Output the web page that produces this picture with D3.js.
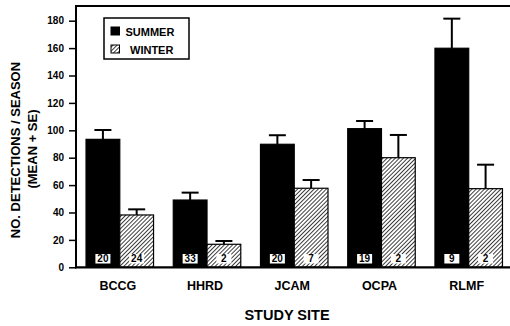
<!DOCTYPE html>
<html>
<head>
  <script src="https://d3js.org/d3.v7.min.js"></script>
  <style>
    body { margin: 0; background: #fff; }
    text { font-family: "Liberation Sans", Arial, sans-serif; font-weight: bold; fill: #000; }
  </style>
</head>
<body>
  <svg id="chart"></svg>
  <script>
    // values
    const sites = ["BCCG", "HHRD", "JCAM", "OCPA", "RLMF"]
    const seasons = ["SUMMER", "WINTER"]
    const summerMean = [93.4, 49.1, 89.8, 101.2, 159.9]
    const summerSE = [6.8, 5.4, 6.6, 5.6, 21.6]
    const winterMean = [38.2, 16.8, 57.7, 80.0, 57.4]
    const winterSE = [4.1, 2.4, 6.0, 16.6, 17.5]
    const summerN = ["20", "33", "20", "19", "9"]
    const winterN = ["24", "2", "7", "2", "2"]
    const yTicks = [0, 20, 40, 60, 80, 100, 120, 140, 160, 180]

    const svgwidth = 510, svgheight = 326
    const svg = d3.select("#chart").attr("width", svgwidth).attr("height", svgheight)

    const margin = { top: 6, left: 76, bottom: 59 }
    const plotRight = 512.5

    // hatch for winter bars
    const hs = 2.9
    const pat = svg.append("defs").append("pattern")
      .attr("id", "hatch")
      .attr("patternUnits", "userSpaceOnUse")
      .attr("width", hs).attr("height", hs)
      .attr("patternTransform", "rotate(45)")
    pat.append("rect").attr("width", hs).attr("height", hs).attr("fill", "#fff")
    pat.append("line").attr("x1", 0).attr("y1", 0).attr("x2", 0).attr("y2", hs)
      .attr("stroke", "#000").attr("stroke-width", 1.5)

    const y = d3.scaleLinear().domain([0, 180]).range([267.3, 20.7])

    const x0 = d3.scaleBand().domain(sites)
      .range([margin.left, plotRight])
      .paddingInner(0.226).paddingOuter(0.115)
    const x1 = d3.scaleBand().domain(seasons).range([0, x0.bandwidth()])

    const data = sites.map((s, i) => ({
      site: s,
      vals: [
        { season: "SUMMER", mean: summerMean[i], se: summerSE[i], n: summerN[i] },
        { season: "WINTER", mean: winterMean[i], se: winterSE[i], n: winterN[i] }
      ]
    }))

    // frame
    svg.append("line").attr("x1", margin.left).attr("x2", svgwidth)
      .attr("y1", margin.top).attr("y2", margin.top)
      .attr("stroke", "#000").attr("stroke-width", 2)

    // y axis
    const yAxis = svg.append("g")
      .attr("transform", `translate(${margin.left},0)`)
      .call(d3.axisLeft(y).tickValues(yTicks).tickSize(7).tickPadding(5))
    yAxis.select(".domain").remove()
    yAxis.selectAll(".tick line").attr("stroke", "#000").attr("stroke-width", 1.5)
    yAxis.selectAll(".tick text").style("font-size", "10px")
      .style("font-family", "'Liberation Sans', Arial, sans-serif").style("font-weight", "bold")
    svg.append("line").attr("x1", margin.left).attr("x2", margin.left)
      .attr("y1", margin.top - 1).attr("y2", y(0) + 1)
      .attr("stroke", "#000").attr("stroke-width", 2)

    const groups = svg.selectAll(".grp").data(data).enter().append("g")
      .attr("transform", d => `translate(${x0(d.site)},0)`)

    const bars = groups.selectAll(".bar").data(d => d.vals).enter().append("g")

    // error bars
    bars.append("line")
      .attr("x1", d => x1(d.season) + x1.bandwidth() / 2)
      .attr("x2", d => x1(d.season) + x1.bandwidth() / 2)
      .attr("y1", d => y(d.mean)).attr("y2", d => y(d.mean + d.se))
      .attr("stroke", "#000").attr("stroke-width", 2)
    bars.append("line")
      .attr("x1", d => x1(d.season) + x1.bandwidth() / 2 - 8.5)
      .attr("x2", d => x1(d.season) + x1.bandwidth() / 2 + 8.5)
      .attr("y1", d => y(d.mean + d.se)).attr("y2", d => y(d.mean + d.se))
      .attr("stroke", "#000").attr("stroke-width", 2)

    bars.append("rect")
      .attr("x", d => x1(d.season))
      .attr("y", d => y(d.mean))
      .attr("width", x1.bandwidth())
      .attr("height", d => y(0) - y(d.mean))
      .attr("fill", d => d.season === "SUMMER" ? "#000" : "url(#hatch)")
      .attr("stroke", "#000").attr("stroke-width", 1.2)

    // sample sizes
    bars.append("rect")
      .attr("x", d => x1(d.season) + x1.bandwidth() / 2 - 7.5)
      .attr("y", 254).attr("width", 15).attr("height", 9.5)
      .attr("fill", "#fff")
    bars.append("text")
      .attr("x", d => x1(d.season) + x1.bandwidth() / 2)
      .attr("y", 262.3)
      .attr("text-anchor", "middle")
      .style("font-size", "10px")
      .text(d => d.n)

    // x axis line
    svg.append("line").attr("x1", margin.left - 1).attr("x2", svgwidth)
      .attr("y1", y(0)).attr("y2", y(0))
      .attr("stroke", "#000").attr("stroke-width", 2.2)

    svg.selectAll(".site").data(sites).enter().append("text")
      .attr("x", d => x0(d) + x0.bandwidth() / 2 - 2)
      .attr("y", 290)
      .attr("text-anchor", "middle")
      .style("font-size", "12.5px")
      .text(d => d)

    svg.append("text").attr("x", 287).attr("y", 320)
      .attr("text-anchor", "middle").style("font-size", "14.5px")
      .text("STUDY SITE")

    svg.append("text")
      .attr("transform", "translate(20,150) rotate(-90)")
      .attr("text-anchor", "middle").style("font-size", "13px")
      .text("NO. DETECTIONS / SEASON")
    svg.append("text")
      .attr("transform", "translate(37,149) rotate(-90)")
      .attr("text-anchor", "middle").style("font-size", "13px")
      .text("(MEAN + SE)")

    // legend
    const lg = svg.append("g")
    lg.append("rect").attr("x", 104).attr("y", 18).attr("width", 85).attr("height", 41)
      .attr("fill", "#fff").attr("stroke", "#000").attr("stroke-width", 1.5)
    const items = lg.selectAll(".item").data(seasons).enter().append("g")
      .attr("transform", (d, i) => `translate(0,${i * 18})`)
    items.append("rect").attr("x", 111).attr("y", 27).attr("width", 8.5).attr("height", 8)
      .attr("fill", d => d === "SUMMER" ? "#000" : "url(#hatch)")
      .attr("stroke", "#000").attr("stroke-width", 1)
    items.append("text")
      .attr("x", (d, i) => i === 0 ? 125.5 : 130)
      .attr("y", 35.5)
      .style("font-size", "11px")
      .text(d => d)
  </script>
</body>
</html>
